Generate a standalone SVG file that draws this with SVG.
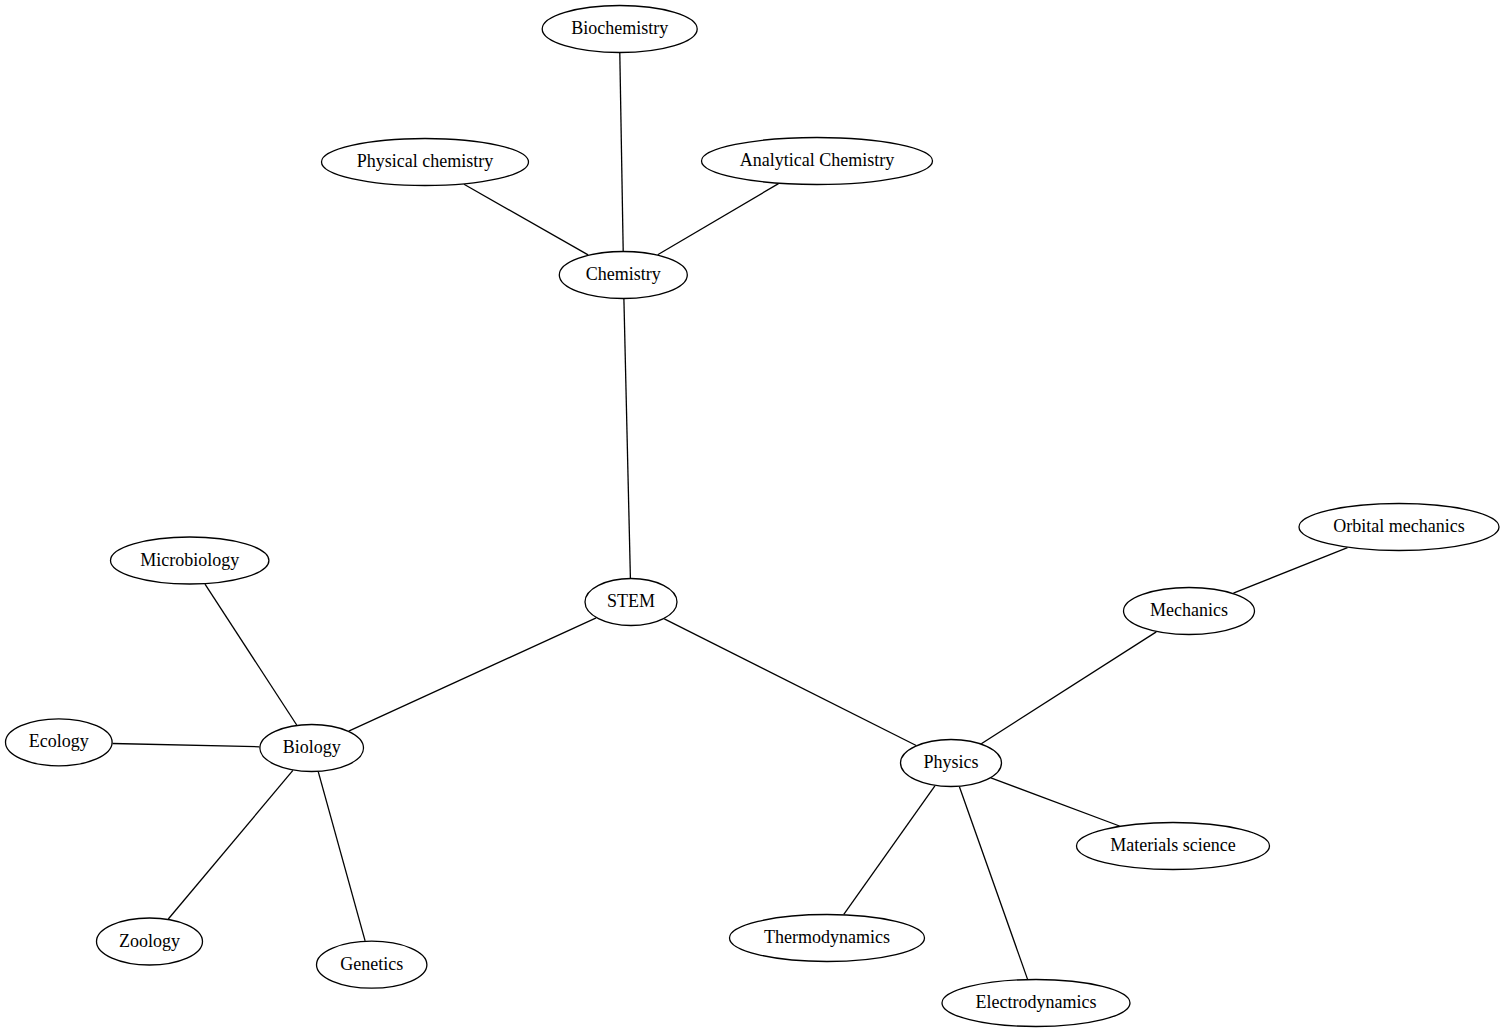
<svg xmlns="http://www.w3.org/2000/svg" width="1505" height="1032" viewBox="0 0 1505 1032">
<style>
.node ellipse{fill:#ffffff;stroke:#000000;stroke-width:1.3}
.node text{font-family:"Liberation Serif","Times New Roman",serif;font-size:18px;fill:#000000;text-anchor:middle}
.edges line{stroke:#000000;stroke-width:1.3}
</style>
<rect width="1505" height="1032" fill="#ffffff"/>
<g id="edges" class="edges">
<line x1="619.8" y1="53" x2="623.2" y2="251"/>
<line x1="464" y1="184.2" x2="588.1" y2="254.9"/>
<line x1="778.5" y1="183.6" x2="657.7" y2="254.7"/>
<line x1="623.9" y1="299" x2="630.4" y2="578"/>
<line x1="596.2" y1="617.9" x2="348.7" y2="731.1"/>
<line x1="664.3" y1="618.8" x2="916.2" y2="745.5"/>
<line x1="205" y1="584.1" x2="296.7" y2="725"/>
<line x1="112.5" y1="743.5" x2="259.5" y2="746.8"/>
<line x1="292.9" y1="770.4" x2="168.3" y2="919"/>
<line x1="318.3" y1="771.8" x2="365.1" y2="940.9"/>
<line x1="1233.4" y1="593.2" x2="1347.5" y2="547.6"/>
<line x1="981.3" y1="743.7" x2="1156.3" y2="631.9"/>
<line x1="990.9" y1="777.9" x2="1119.5" y2="826"/>
<line x1="934.9" y1="785.8" x2="843.8" y2="914.4"/>
<line x1="959.4" y1="786.7" x2="1027.5" y2="979.1"/>
</g>
<g id="biochemistry" class="node"><ellipse cx="619.7" cy="29" rx="77.5" ry="23.5"/><text x="619.7" y="34">Biochemistry</text></g>
<g id="physical_chemistry" class="node"><ellipse cx="425" cy="162" rx="103.5" ry="23.5"/><text x="425" y="167">Physical chemistry</text></g>
<g id="analytical_chemistry" class="node"><ellipse cx="817" cy="161" rx="115.5" ry="23.5"/><text x="817" y="166">Analytical Chemistry</text></g>
<g id="chemistry" class="node"><ellipse cx="623.3" cy="275" rx="64" ry="23.5"/><text x="623.3" y="280">Chemistry</text></g>
<g id="stem" class="node"><ellipse cx="631" cy="602" rx="46" ry="23.5"/><text x="631" y="607">STEM</text></g>
<g id="microbiology" class="node"><ellipse cx="189.7" cy="560.5" rx="79.2" ry="23.5"/><text x="189.7" y="565.5">Microbiology</text></g>
<g id="ecology" class="node"><ellipse cx="58.8" cy="742.3" rx="53.3" ry="23.5"/><text x="58.8" y="747.3">Ecology</text></g>
<g id="biology" class="node"><ellipse cx="311.7" cy="748" rx="51.8" ry="23.5"/><text x="311.7" y="753">Biology</text></g>
<g id="zoology" class="node"><ellipse cx="149.5" cy="941.5" rx="53" ry="23.5"/><text x="149.5" y="946.5">Zoology</text></g>
<g id="genetics" class="node"><ellipse cx="371.7" cy="964.7" rx="55.2" ry="23.5"/><text x="371.7" y="969.7">Genetics</text></g>
<g id="orbital_mechanics" class="node"><ellipse cx="1399" cy="527" rx="100" ry="23.5"/><text x="1399" y="532">Orbital mechanics</text></g>
<g id="mechanics" class="node"><ellipse cx="1189" cy="611" rx="65.5" ry="23.5"/><text x="1189" y="616">Mechanics</text></g>
<g id="physics" class="node"><ellipse cx="951" cy="763" rx="50.5" ry="23.5"/><text x="951" y="768">Physics</text></g>
<g id="materials_science" class="node"><ellipse cx="1173" cy="846" rx="96.5" ry="23.5"/><text x="1173" y="851">Materials science</text></g>
<g id="thermodynamics" class="node"><ellipse cx="827" cy="938" rx="97.5" ry="23.5"/><text x="827" y="943">Thermodynamics</text></g>
<g id="electrodynamics" class="node"><ellipse cx="1036" cy="1003" rx="94" ry="23.5"/><text x="1036" y="1008">Electrodynamics</text></g>
</svg>
